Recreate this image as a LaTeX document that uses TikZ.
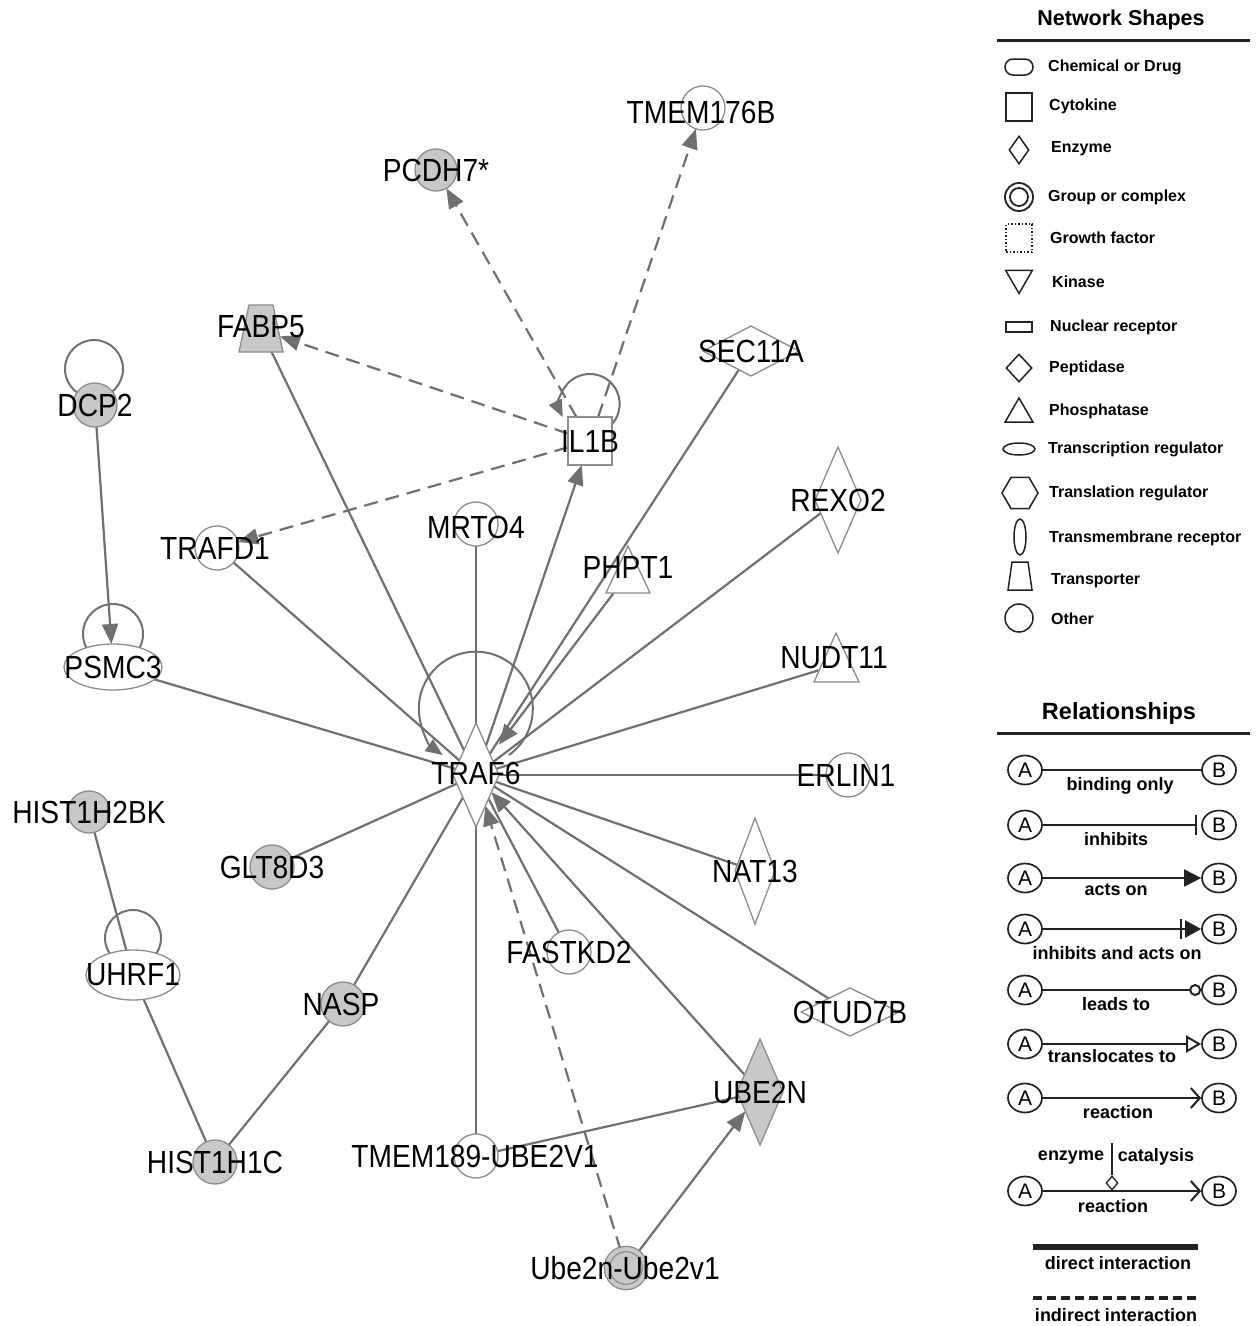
\documentclass[tikz,border=0pt]{standalone}
\usepackage{fontspec}
\usetikzlibrary{shapes.geometric,arrows.meta,backgrounds}
\newfontfamily\nlf[FakeStretch=0.88]{Liberation Sans}
\newfontfamily\lgf{Liberation Sans}
\definecolor{edgec}{HTML}{707070}
\definecolor{bordc}{HTML}{8C8C8C}
\definecolor{fillg}{HTML}{C8C8C8}
\definecolor{legc}{HTML}{222222}
\tikzset{
  lbl/.style={font=\nlf\fontsize{32}{34}\selectfont, text=black, inner sep=0pt},
  nd/.style={draw=bordc, line width=1.3pt, inner sep=0pt, outer sep=0pt, fill=white},
  gnd/.style={nd, fill=fillg},
  circ/.style={circle, minimum size=#1},
  dia/.style 2 args={diamond, minimum width=#1, minimum height=#2},
  ell/.style 2 args={ellipse, minimum width=#1, minimum height=#2},
  hid/.style={circle, minimum size=#1, inner sep=0pt, outer sep=0pt, draw=none},
  lnk/.style={draw=edgec, line width=2.2pt},
  dlnk/.style={lnk, dash pattern=on 14pt off 8pt},
  arrw/.style={-{Triangle[length=20pt,width=16pt]}},
  larrw/.style={-{Triangle[length=17pt,width=14pt]}},
  loopc/.style={draw=edgec, line width=2pt},
  lsh/.style={draw=legc, line width=1.5pt, inner sep=0pt, fill=white},
  lst/.style={anchor=west, font=\lgf\bfseries\fontsize{16}{18}\selectfont, inner sep=0pt},
  rt/.style={font=\lgf\bfseries\fontsize{18}{20}\selectfont, inner sep=0pt},
  ab/.style={draw=legc, line width=1.7pt, ellipse, minimum width=34, minimum height=29, inner sep=0pt, fill=white, font=\lgf\fontsize{21}{22}\selectfont},
  rl/.style={draw=legc, line width=2pt}
}
\begin{document}
\begin{tikzpicture}[x=1pt, y=-1pt]
\useasboundingbox (0,0) rectangle (1256,1326);

% ---------- network nodes ----------
\node[nd, circ=44, label={[lbl,xshift=-2pt,yshift=-4pt]center:TMEM176B}] (tmem176b) at (703,108) {};
\node[gnd, circ=42, label={[lbl]center:PCDH7*}] (pcdh7) at (436,170) {};
\draw[gnd] (249,305) -- (273,305) -- (283,352) -- (239,352) -- cycle;
\node[hid=40, label={[lbl,yshift=3pt]center:FABP5}] (fabp5) at (261,330) {};
\node[gnd, circ=44, label={[lbl]center:DCP2}] (dcp2) at (95,405) {};
\node[nd, rectangle, minimum width=44, minimum height=48, label={[lbl]center:IL1B}] (il1b) at (590,441) {};
\node[nd, dia={96}{50}, label={[lbl]center:SEC11A}] (sec11a) at (751,351) {};
\node[nd, dia={46}{106}, label={[lbl]center:REXO2}] (rexo2) at (838,500) {};
\node[nd, circ=44, label={[lbl,xshift=-2pt]center:TRAFD1}] (trafd1) at (217,548) {};
\node[nd, circ=44, label={[lbl,yshift=-3pt]center:MRTO4}] (mrto4) at (476,524) {};
\draw[nd] (606,593) -- (628,546) -- (650,593) -- cycle;
\node[hid=36, label={[lbl,yshift=7pt]center:PHPT1}] (phpt1) at (628,574) {};
\node[nd, ell={98}{46}, label={[lbl]center:PSMC3}] (psmc3) at (113,667) {};
\draw[nd] (814,682) -- (836,633) -- (859,682) -- cycle;
\node[hid=36, label={[lbl,xshift=-2pt,yshift=7pt]center:NUDT11}] (nudt11) at (836,665) {};
\node[nd, dia={46}{104}, label={[lbl,yshift=2pt]center:TRAF6}] (traf6) at (476,775) {};
\node[nd, circ=44, label={[lbl,xshift=-2pt]center:ERLIN1}] (erlin1) at (848,775) {};
\node[gnd, circ=42, label={[lbl]center:HIST1H2BK}] (hist1h2bk) at (89,812) {};
\node[gnd, circ=44, label={[lbl]center:GLT8D3}] (glt8d3) at (272,867) {};
\node[nd, dia={40}{106}, label={[lbl]center:NAT13}] (nat13) at (755,871) {};
\node[nd, circ=44, label={[lbl]center:FASTKD2}] (fastkd2) at (569,952) {};
\node[nd, ell={94}{50}, label={[lbl]center:UHRF1}] (uhrf1) at (133,975) {};
\node[gnd, circ=44, label={[lbl,xshift=-2pt]center:NASP}] (nasp) at (343,1004) {};
\node[nd, dia={98}{48}, label={[lbl]center:OTUD7B}] (otud7b) at (850,1012) {};
\node[gnd, dia={46}{106}, label={[lbl]center:UBE2N}] (ube2n) at (760,1092) {};
\node[gnd, circ=44, label={[lbl]center:HIST1H1C}] (hist1h1c) at (215,1162) {};
\node[nd, circ=44, label={[lbl,xshift=-1pt]center:TMEM189-UBE2V1}] (tmem189) at (476,1156) {};
\node[gnd, circ=38, double=fillg, double distance=4pt, label={[lbl,xshift=-1pt]center:Ube2n-Ube2v1}] (cplx) at (626,1268) {};

% ---------- connectors (behind nodes) ----------
\begin{scope}[on background layer]
  \fill[white] (0,0) rectangle (1256,1326);
  % self loops
  \draw[loopc] (94,369) circle[radius=29];
  \draw[loopc] (113,634) circle[radius=30];
  \draw[loopc] (133,938) circle[radius=28];
  \draw[loopc, larrw] (509,755) arc[start angle=54.4, end angle=-234.4, radius=57];
  \draw[loopc, larrw] (612,424) arc[start angle=42, end angle=-206, radius=30];
  % IL1B indirect
  \draw[dlnk, arrw] (il1b) -- (tmem176b);
  \draw[dlnk, arrw] (il1b) -- (pcdh7);
  \draw[dlnk, arrw] (il1b) -- (fabp5);
  \draw[dlnk, arrw] (il1b) -- (trafd1);
  % direct with arrows
  \draw[lnk, arrw] (traf6) -- (il1b);
  \draw[lnk, arrw] (dcp2) -- (psmc3);
  \draw[lnk, arrw, shorten >=14pt] (phpt1) -- (traf6);
  \draw[lnk, arrw] (ube2n) -- (traf6);
  \draw[dlnk, arrw] (cplx) -- (traf6);
  \draw[lnk, arrw] (cplx) -- (ube2n);
  % plain direct
  \draw[lnk] (tmem189) -- (ube2n);
  \draw[lnk] (tmem189) -- (traf6);
  \draw[lnk] (fabp5) -- (traf6);
  \draw[lnk] (trafd1) -- (traf6);
  \draw[lnk] (psmc3) -- (traf6);
  \draw[lnk] (mrto4) -- (traf6);
  \draw[lnk] (sec11a) -- (traf6);
  \draw[lnk] (rexo2) -- (traf6);
  \draw[lnk] (nudt11) -- (traf6);
  \draw[lnk] (erlin1) -- (traf6);
  \draw[lnk] (nat13) -- (traf6);
  \draw[lnk] (otud7b) -- (traf6);
  \draw[lnk] (fastkd2) -- (traf6);
  \draw[lnk] (nasp) -- (traf6);
  \draw[lnk] (glt8d3) -- (traf6);
  \draw[lnk] (hist1h2bk) -- (uhrf1);
  \draw[lnk] (uhrf1) -- (hist1h1c);
  \draw[lnk] (hist1h1c) -- (nasp);
\end{scope}

% ---------- legend: network shapes ----------
\node[font=\lgf\bfseries\fontsize{21.5}{24}\selectfont, inner sep=0pt] (nshead) at (1121,20) {Network Shapes};
\draw[line width=3pt, legc] (997,40) -- (1250,40);
\node[lsh, rectangle, rounded corners=8pt, minimum width=28, minimum height=16] (ls1) at (1019,67) {};
\node[lst] (lt1) at (1048,67) {Chemical or Drug};
\node[lsh, rectangle, minimum width=26, minimum height=28] (ls2) at (1019,107) {};
\node[lst] (lt2) at (1049,106) {Cytokine};
\node[lsh, dia={20}{28}] (ls3) at (1019,150) {};
\node[lst] (lt3) at (1051,149) {Enzyme};
\node[lsh, circle, minimum size=28, line width=1.8pt] (ls4) at (1019,197) {};
\draw[legc, line width=1.8pt] (ls4.center) circle[radius=9];
\node[lst] (lt4) at (1048,197) {Group or complex};
\node[lsh, rectangle, dotted, minimum width=26, minimum height=28] (ls5) at (1019,238) {};
\node[lst] (lt5) at (1050,238) {Growth factor};
\node[lsh, regular polygon, regular polygon sides=3, shape border rotate=180, minimum size=31] (ls6) at (1019,278) {};
\node[lst] (lt6) at (1052,282) {Kinase};
\node[lsh, rectangle, minimum width=26, minimum height=10] (ls7) at (1019,327) {};
\node[lst] (lt7) at (1050,327) {Nuclear receptor};
\node[lsh, dia={26}{28}] (ls8) at (1019,368) {};
\node[lst] (lt8) at (1049,368) {Peptidase};
\node[lsh, regular polygon, regular polygon sides=3, minimum size=32] (ls9) at (1019,414) {};
\node[lst] (lt9) at (1049,411) {Phosphatase};
\node[lsh, ellipse, minimum width=32, minimum height=12] (ls10) at (1019,449) {};
\node[lst] (lt10) at (1048,449) {Transcription regulator};
\node[lsh, regular polygon, regular polygon sides=6, minimum size=36] (ls11) at (1020,493) {};
\node[lst] (lt11) at (1049,493) {Translation regulator};
\node[lsh, ellipse, minimum width=12, minimum height=36] (ls12) at (1020,537) {};
\node[lst] (lt12) at (1049,538) {Transmembrane receptor};
\draw[lsh] (1012,562) -- (1028,562) -- (1032,590) -- (1008,590) -- cycle;
\node[lst] (lt13) at (1051,581) {Transporter};
\node[lsh, circle, minimum size=28] (ls14) at (1019,618) {};
\node[lst] (lt14) at (1051,619) {Other};

% ---------- legend: relationships ----------
\node[font=\lgf\bfseries\fontsize{23.5}{26}\selectfont, inner sep=0pt] (rshead) at (1119,713) {Relationships};
\draw[line width=3pt, legc] (997,733) -- (1250,733);

\node[ab] (a1) at (1025,770) {A}; \node[ab] (b1) at (1219,770) {B};
\draw[rl] (a1) -- (b1);
\node[rt] (t1) at (1120,786) {binding only};

\node[ab] (a2) at (1025,825) {A}; \node[ab] (b2) at (1219,825) {B};
\draw[rl, -{Bar[width=20pt,line width=2pt]}, shorten >=4pt] (a2) -- (b2);
\node[rt] (t2) at (1116,839) {inhibits};

\node[ab] (a3) at (1025,878) {A}; \node[ab] (b3) at (1219,878) {B};
\draw[rl, -{Triangle[length=17pt,width=17pt]}] (a3) -- (b3);
\node[rt] (t3) at (1116,890) {acts on};

\node[ab] (a4) at (1025,929) {A}; \node[ab] (b4) at (1219,929) {B};
\draw[rl, -{Bar[width=20pt,line width=2pt,sep=3pt]Triangle[length=16pt,width=17pt]}] (a4) -- (b4);
\node[rt] (t4) at (1117,953) {inhibits and acts on};

\node[ab] (a5) at (1025,990) {A}; \node[ab] (b5) at (1219,990) {B};
\draw[rl, -{Circle[open,length=12pt,fill=white]}] (a5) -- (b5);
\node[rt] (t5) at (1116,1004) {leads to};

\node[ab] (a6) at (1025,1044) {A}; \node[ab] (b6) at (1219,1044) {B};
\draw[rl, -{Triangle[open,length=15pt,width=17pt,fill=white]}] (a6) -- (b6);
\node[rt] (t6) at (1112,1056) {translocates to};

\node[ab] (a7) at (1025,1098) {A}; \node[ab] (b7) at (1219,1098) {B};
\draw[rl, -{Straight Barb[length=9pt,width=20pt]}] (a7) -- (b7);
\node[rt] (t7) at (1118,1112) {reaction};

\node[ab] (a8) at (1025,1191) {A}; \node[ab] (b8) at (1219,1191) {B};
\draw[rl, -{Straight Barb[length=9pt,width=20pt]}] (a8) -- (b8);
\node[draw=legc, line width=1.3pt, diamond, minimum width=12, minimum height=14, inner sep=0pt, fill=white] (cd) at (1112,1183) {};
\coordinate (cdtop) at (1112,1143);
\draw[legc, line width=1.3pt] (cdtop) -- (cd.north);
\node[rt] (t8a) at (1071,1158) {enzyme};
\node[rt] (t8b) at (1156,1157) {catalysis};
\node[rt] (t8) at (1113,1206) {reaction};

\coordinate (d1) at (1033,1247); \coordinate (d2) at (1198,1247);
\draw[legc, line width=6pt] (d1) -- (d2);
\node[rt] (t9) at (1118,1263) {direct interaction};
\coordinate (i1) at (1033,1298); \coordinate (i2) at (1198,1298);
\draw[legc, line width=4.5pt, dash pattern=on 9pt off 5pt] (i1) -- (i2);
\node[rt] (t10) at (1116,1315) {indirect interaction};
\end{tikzpicture}
\end{document}
